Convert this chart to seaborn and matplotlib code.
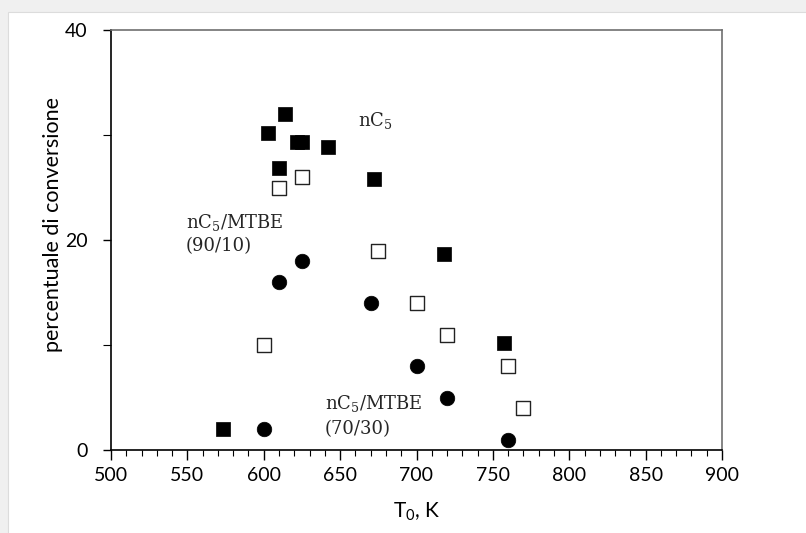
import matplotlib
matplotlib.use("Agg")
import matplotlib.pyplot as plt
import seaborn as sns
import pandas as pd
from matplotlib.patches import Rectangle
from matplotlib.ticker import MultipleLocator, FixedLocator

# Data
nc5_x = [573, 603, 614, 610, 622, 625, 642, 672, 718, 757]
nc5_y = [2.0, 30.2, 32.0, 26.9, 29.3, 29.3, 28.9, 25.8, 18.7, 10.2]
mix90_x = [600, 610, 625, 675, 700, 720, 760, 770]
mix90_y = [10.0, 25.0, 26.0, 19.0, 14.0, 11.0, 8.0, 4.0]
mix70_x = [600, 610, 625, 670, 700, 720, 760]
mix70_y = [2.0, 16.0, 18.0, 14.0, 8.0, 5.0, 1.0]

x_ticks = [500, 550, 600, 650, 700, 750, 800, 850, 900]
y_ticks = [0, 20, 40]

sns.set_theme(style="white")
plt.rcParams['font.family'] = ['Lato', 'DejaVu Sans']

df = pd.concat([
    pd.DataFrame({"T": nc5_x, "conv": nc5_y, "serie": "nC5"}),
    pd.DataFrame({"T": mix90_x, "conv": mix90_y, "serie": "90/10"}),
    pd.DataFrame({"T": mix70_x, "conv": mix70_y, "serie": "70/30"}),
])

fig = plt.figure(figsize=(8.06, 5.33), dpi=100)
fig.patch.set_facecolor("#f0f0f0")
bg = Rectangle((8.3 / 806, -0.01), 1, 1.01 - 11.7 / 533, transform=fig.transFigure,
               facecolor="white", edgecolor="#dcdcdc", linewidth=0.8, zorder=-10)
fig.add_artist(bg)
ax = fig.add_axes([111 / 806, 83 / 533, 611 / 806, 420 / 533])
ax.set_facecolor("white")
ax.set_zorder(1)

sns.scatterplot(data=df[df.serie == "nC5"], x="T", y="conv", marker="s", s=110,
                color="black", edgecolor="black", linewidth=0.5, ax=ax, legend=False, zorder=3)
sns.scatterplot(data=df[df.serie == "90/10"], x="T", y="conv", marker="s", s=100,
                facecolor="white", edgecolor="#222222", linewidth=1.0, ax=ax, legend=False, zorder=3)
sns.scatterplot(data=df[df.serie == "70/30"], x="T", y="conv", marker="o", s=110,
                color="black", edgecolor="black", linewidth=0.5, ax=ax, legend=False, zorder=3)

ax.set_xlim(500, 900)
ax.set_ylim(0, 40)
ax.xaxis.set_major_locator(FixedLocator(x_ticks))
ax.xaxis.set_minor_locator(MultipleLocator(10))
ax.yaxis.set_major_locator(FixedLocator(y_ticks))
ax.yaxis.set_minor_locator(FixedLocator([10, 30]))
ax.tick_params(axis="x", which="major", direction="out", length=7, width=1.0, color="black",
               pad=5, labelsize=14, bottom=True, labelcolor="black")
ax.tick_params(axis="x", which="minor", direction="out", length=4, width=0.8, color="black", bottom=True)
ax.tick_params(axis="y", which="major", direction="out", length=6, width=1.0, color="black",
               pad=11, labelsize=14, left=True, labelcolor="black")
ax.tick_params(axis="y", which="minor", direction="out", length=6, width=0.8, color="black", left=True)

for side in ["left", "bottom"]:
    ax.spines[side].set_color("black")
    ax.spines[side].set_linewidth(1.2)
for side in ["top", "right"]:
    ax.spines[side].set_color("#707070")
    ax.spines[side].set_linewidth(1.2)

ax.set_xlabel(r"T$_\mathregular{0}$, K", fontsize=15, labelpad=12, color="black")
ax.set_ylabel("percentuale di conversione", fontsize=15.5, labelpad=1, color="black")
ax.yaxis.label.set_y(0.536)

serif = ['DejaVu Serif']
fs = 13
ax.text(662, 31.4, r"$\mathregular{nC_5}$", fontsize=fs, family=serif, ha="left", va="center")
ax.text(549, 21.7, r"$\mathregular{nC_5}$/MTBE", fontsize=fs, family=serif, ha="left", va="center")
ax.text(549, 19.4, "(90/10)", fontsize=fs, family=serif, ha="left", va="center")
ax.text(640, 4.4, r"$\mathregular{nC_5}$/MTBE", fontsize=fs, family=serif, ha="left", va="center")
ax.text(640, 2.0, "(70/30)", fontsize=fs, family=serif, ha="left", va="center")

fig.savefig("out.png", dpi=100, facecolor=fig.get_facecolor())
